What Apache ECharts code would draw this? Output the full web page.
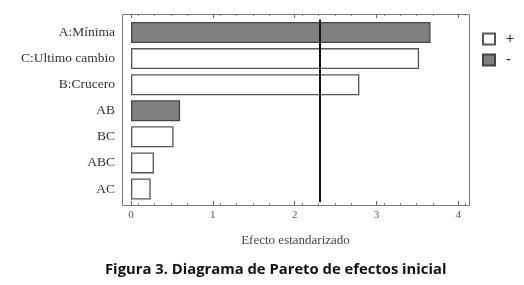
<!DOCTYPE html>
<html>
<head>
<meta charset="utf-8">
<script src="https://cdn.jsdelivr.net/npm/echarts@6/dist/echarts.min.js"></script>
<style>
    html, body { margin: 0; padding: 0; background: #fff; }
    #chart { width: 524px; height: 285px; }
</style>
</head>
<body>
<div id="chart"></div>
<script>
    // datos del diagrama de Pareto
    const categories = ['A:Mínima', 'C:Ultimo cambio', 'B:Crucero', 'AB', 'BC', 'ABC', 'AC']
    const effects = [3.66, 3.52, 2.79, 0.60, 0.52, 0.28, 0.24]
    const signs = ['-', '+', '+', '-', '+', '+', '+']
    const xTicks = [0, 1, 2, 3, 4]
    const criticalValue = 2.31

    const serif = '"Liberation Serif", "DejaVu Serif", serif'
    const plusData = effects.map((v, i) => signs[i] === '+' ? v : '-')
    const minusData = effects.map((v, i) => signs[i] === '-' ? v : '-')

    const frame = { left: 122, top: 14, right: 469, bottom: 205 }

    const xBase = {
        type: 'value',
        min: -0.11,
        max: 4.13,
        interval: 1,
        axisLine: { show: false },
        splitLine: { show: false },
        axisTick: { show: true, inside: true, length: 4, lineStyle: { color: '#666' }, customValues: xTicks },
        minorTick: { show: true, splitNumber: 5, length: 2, lineStyle: { color: '#888' } }
    }

    const chart = echarts.init(document.getElementById('chart'))
    chart.setOption({
        animation: false,
        backgroundColor: '#fff',
        title: {
            text: 'Figura 3. Diagrama de Pareto de efectos inicial',
            left: 100,
            top: 257,
            textStyle: { fontFamily: '"Open Sans", sans-serif', fontWeight: 'bold', fontSize: 14.8, color: '#111' }
        },
        legend: {
            orient: 'vertical',
            left: 477,
            top: 27,
            itemWidth: 12,
            itemHeight: 11,
            itemGap: 7,
            icon: 'rect',
            data: ['+', '-'],
            textStyle: { fontFamily: '"Liberation Sans", sans-serif', fontSize: 14, color: '#222', padding: [0, 0, 0, 6] }
        },
        grid: { left: 122, right: 55, top: 19.5, bottom: 83 },
        xAxis: [
            Object.assign({}, xBase, {
                position: 'bottom',
                offset: 3,
                axisLabel: { show: true, margin: 5, fontFamily: serif, fontSize: 11, color: '#555', customValues: xTicks },
                name: 'Efecto estandarizado',
                nameLocation: 'middle',
                nameGap: 29,
                nameTextStyle: { fontFamily: serif, fontSize: 13, color: '#444' }
            }),
            Object.assign({}, xBase, {
                position: 'top',
                offset: 5.5,
                axisLabel: { show: false }
            })
        ],
        yAxis: {
            type: 'category',
            data: categories,
            inverse: true,
            axisLine: { show: false },
            axisTick: { show: false },
            axisLabel: { margin: 7, fontFamily: serif, fontSize: 13.5, color: '#333' }
        },
        graphic: [{
            type: 'rect',
            shape: { x: frame.left + 0.5, y: frame.top + 0.5, width: frame.right - frame.left, height: frame.bottom - frame.top },
            style: { fill: 'none', stroke: '#777', lineWidth: 1 },
            z: 10
        }],
        series: [
            {
                name: '+',
                type: 'bar',
                stack: 'efecto',
                barWidth: 21,
                data: plusData,
                itemStyle: { color: '#fff', borderColor: '#555', borderWidth: 1.3 }
            },
            {
                name: '-',
                type: 'bar',
                stack: 'efecto',
                barWidth: 21,
                data: minusData,
                itemStyle: { color: '#808080', borderColor: '#444', borderWidth: 1.3 },
                markLine: {
                    symbol: 'none',
                    silent: true,
                    label: { show: false },
                    lineStyle: { color: '#111', width: 2, type: 'solid' },
                    data: [{ xAxis: criticalValue }]
                }
            }
        ]
    })
</script>
</body>
</html>
